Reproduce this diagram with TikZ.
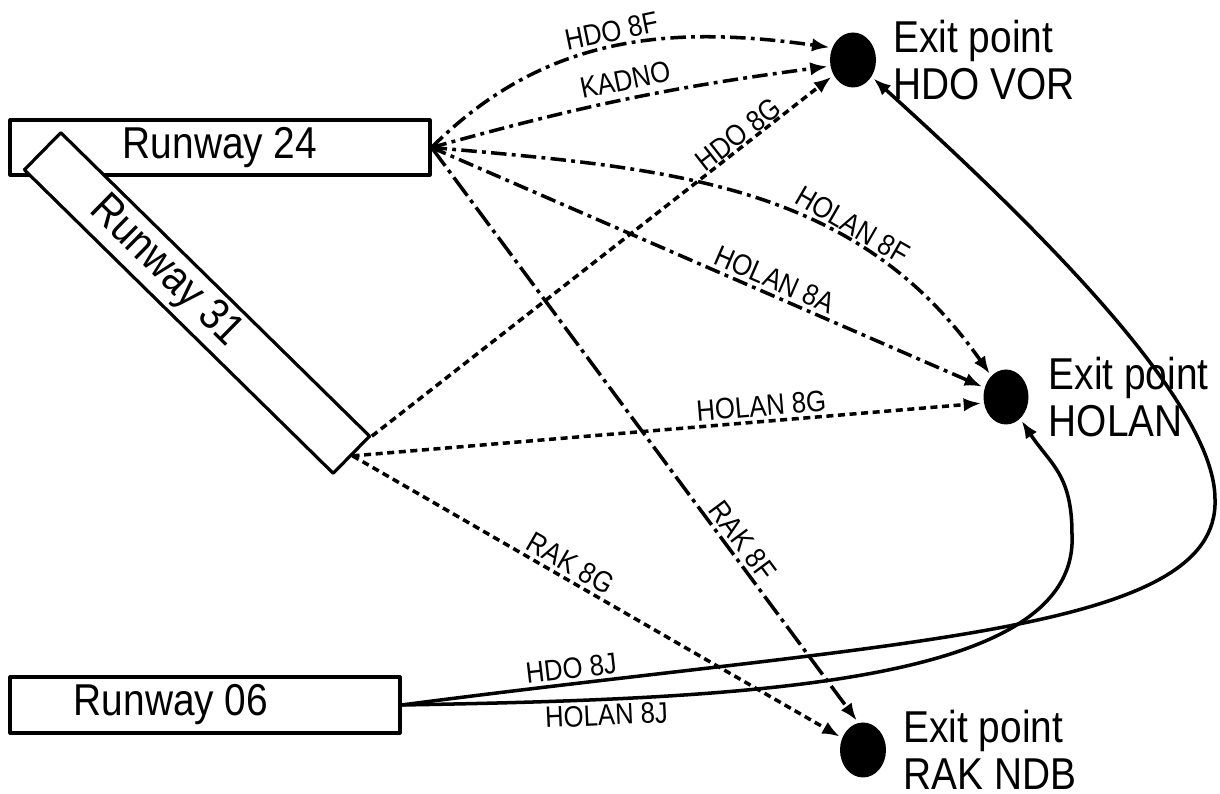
\documentclass[tikz,border=0pt]{standalone}
\usepackage{fontspec}
\newfontfamily\rwfont{Liberation Sans}[FakeStretch=0.87]
\usetikzlibrary{shapes.geometric,arrows.meta,positioning}
\tikzset{
  runway/.style={rectangle, draw, line width=0.9pt, fill=white, inner sep=0pt,
                 minimum height=0.55cm, font=\rwfont\fontsize{12.7}{13.4}\selectfont},
  exitdot/.style={ellipse, fill=black, minimum width=0.46cm, minimum height=0.55cm,
                  inner sep=0pt},
  exittext/.style={align=left, inner sep=0pt, font=\rwfont\fontsize{12.7}{13.4}\selectfont},
  routelbl/.style={font=\rwfont\fontsize{8.4}{10}\selectfont, inner sep=1pt, sloped},
  route/.style={-{Latex[length=5pt,width=3.8pt]}, line width=1pt, shorten >=0.6pt},
  dashdot/.style={route, dash pattern=on 4.4pt off 1.5pt on 1.1pt off 1.5pt},
  longdashdot/.style={route, dash pattern=on 6.5pt off 1.5pt on 1.1pt off 1.5pt},
  shortdash/.style={route, dash pattern=on 2pt off 1.3pt},
}
\begin{document}
\begin{tikzpicture}[line join=round]
  \useasboundingbox (0,0) rectangle (12.2,7.94);
  % runways
  \node[runway, minimum width=4.2cm] (r24) at (2.20,6.465) {Runway 24};
  \node[runway, minimum width=4.33cm, minimum height=0.52cm, rotate=-44.5] (r31)
       at (1.97,4.91) {Runway 31\hspace*{0.89cm}};
  \node[runway, minimum width=3.9cm, minimum height=0.56cm] (r06)
       at (2.05,0.89) {Runway 06\hspace*{0.68cm}};
  % exit points
  \node[exitdot] (hdo) at (8.53,7.34) {};
  \node[exitdot, minimum width=0.45cm] (hol) at (10.06,3.97) {};
  \node[exitdot] (rak) at (8.63,0.44) {};
  \node[exittext, right=0.16cm of hdo] (hdotxt) {Exit point\\HDO VOR};
  \node[exittext, right=0.19cm of hol] (holtxt) {Exit point\\HOLAN};
  \node[exittext, right=0.16cm of rak] (raktxt) {Exit point\\RAK NDB};
  % from runway 24
  \draw[dashdot] (r24.east) to[out=45,in=172] node[routelbl, above, pos=0.5] (l1) {HDO 8F} (hdo.150);
  \draw[dashdot] (r24.east) to[bend left=4] node[routelbl, above=1pt] (l2) {KADNO} (hdo.195);
  \draw[dashdot] (r24.east) to[out=-5,in=125] node[routelbl, above, pos=0.68] (l3) {HOLAN 8F} (hol);
  \draw[dashdot] (r24.east) -- node[routelbl, above, pos=0.61] (l4) {HOLAN 8A} (hol);
  \draw[longdashdot] (r24.east) -- node[routelbl, above, pos=0.70] (l5) {RAK 8F} (rak.100);
  % from runway 31
  \draw[shortdash] (r31.north east) -- node[routelbl, above=-1pt, pos=0.81] (l6) {HDO 8G} (hdo);
  \draw[shortdash] (r31.east) -- node[routelbl, above, pos=0.65] (l7) {HOLAN 8G} (hol.195);
  \draw[shortdash] (r31.east) -- node[routelbl, above, pos=0.43] (l8) {RAK 8G} (rak);
  % from runway 06
  \draw[route] (r06.east) .. controls (9.0,1.54) and (12.2,1.6) .. (12.15,2.95)
       node[routelbl, above, pos=0.12] (l9) {HDO 8J}
       .. controls (12.15,3.95) and (10.22,5.81) .. (hdo);
  \draw[route] (r06.east) .. controls (7.5,0.95) and (10.8,1.1) .. (10.72,2.6)
       node[routelbl, below, pos=0.2] (l10) {HOLAN 8J}
       .. controls (10.72,3.2) and (10.5,3.3) .. (hol);
\end{tikzpicture}
\end{document}
